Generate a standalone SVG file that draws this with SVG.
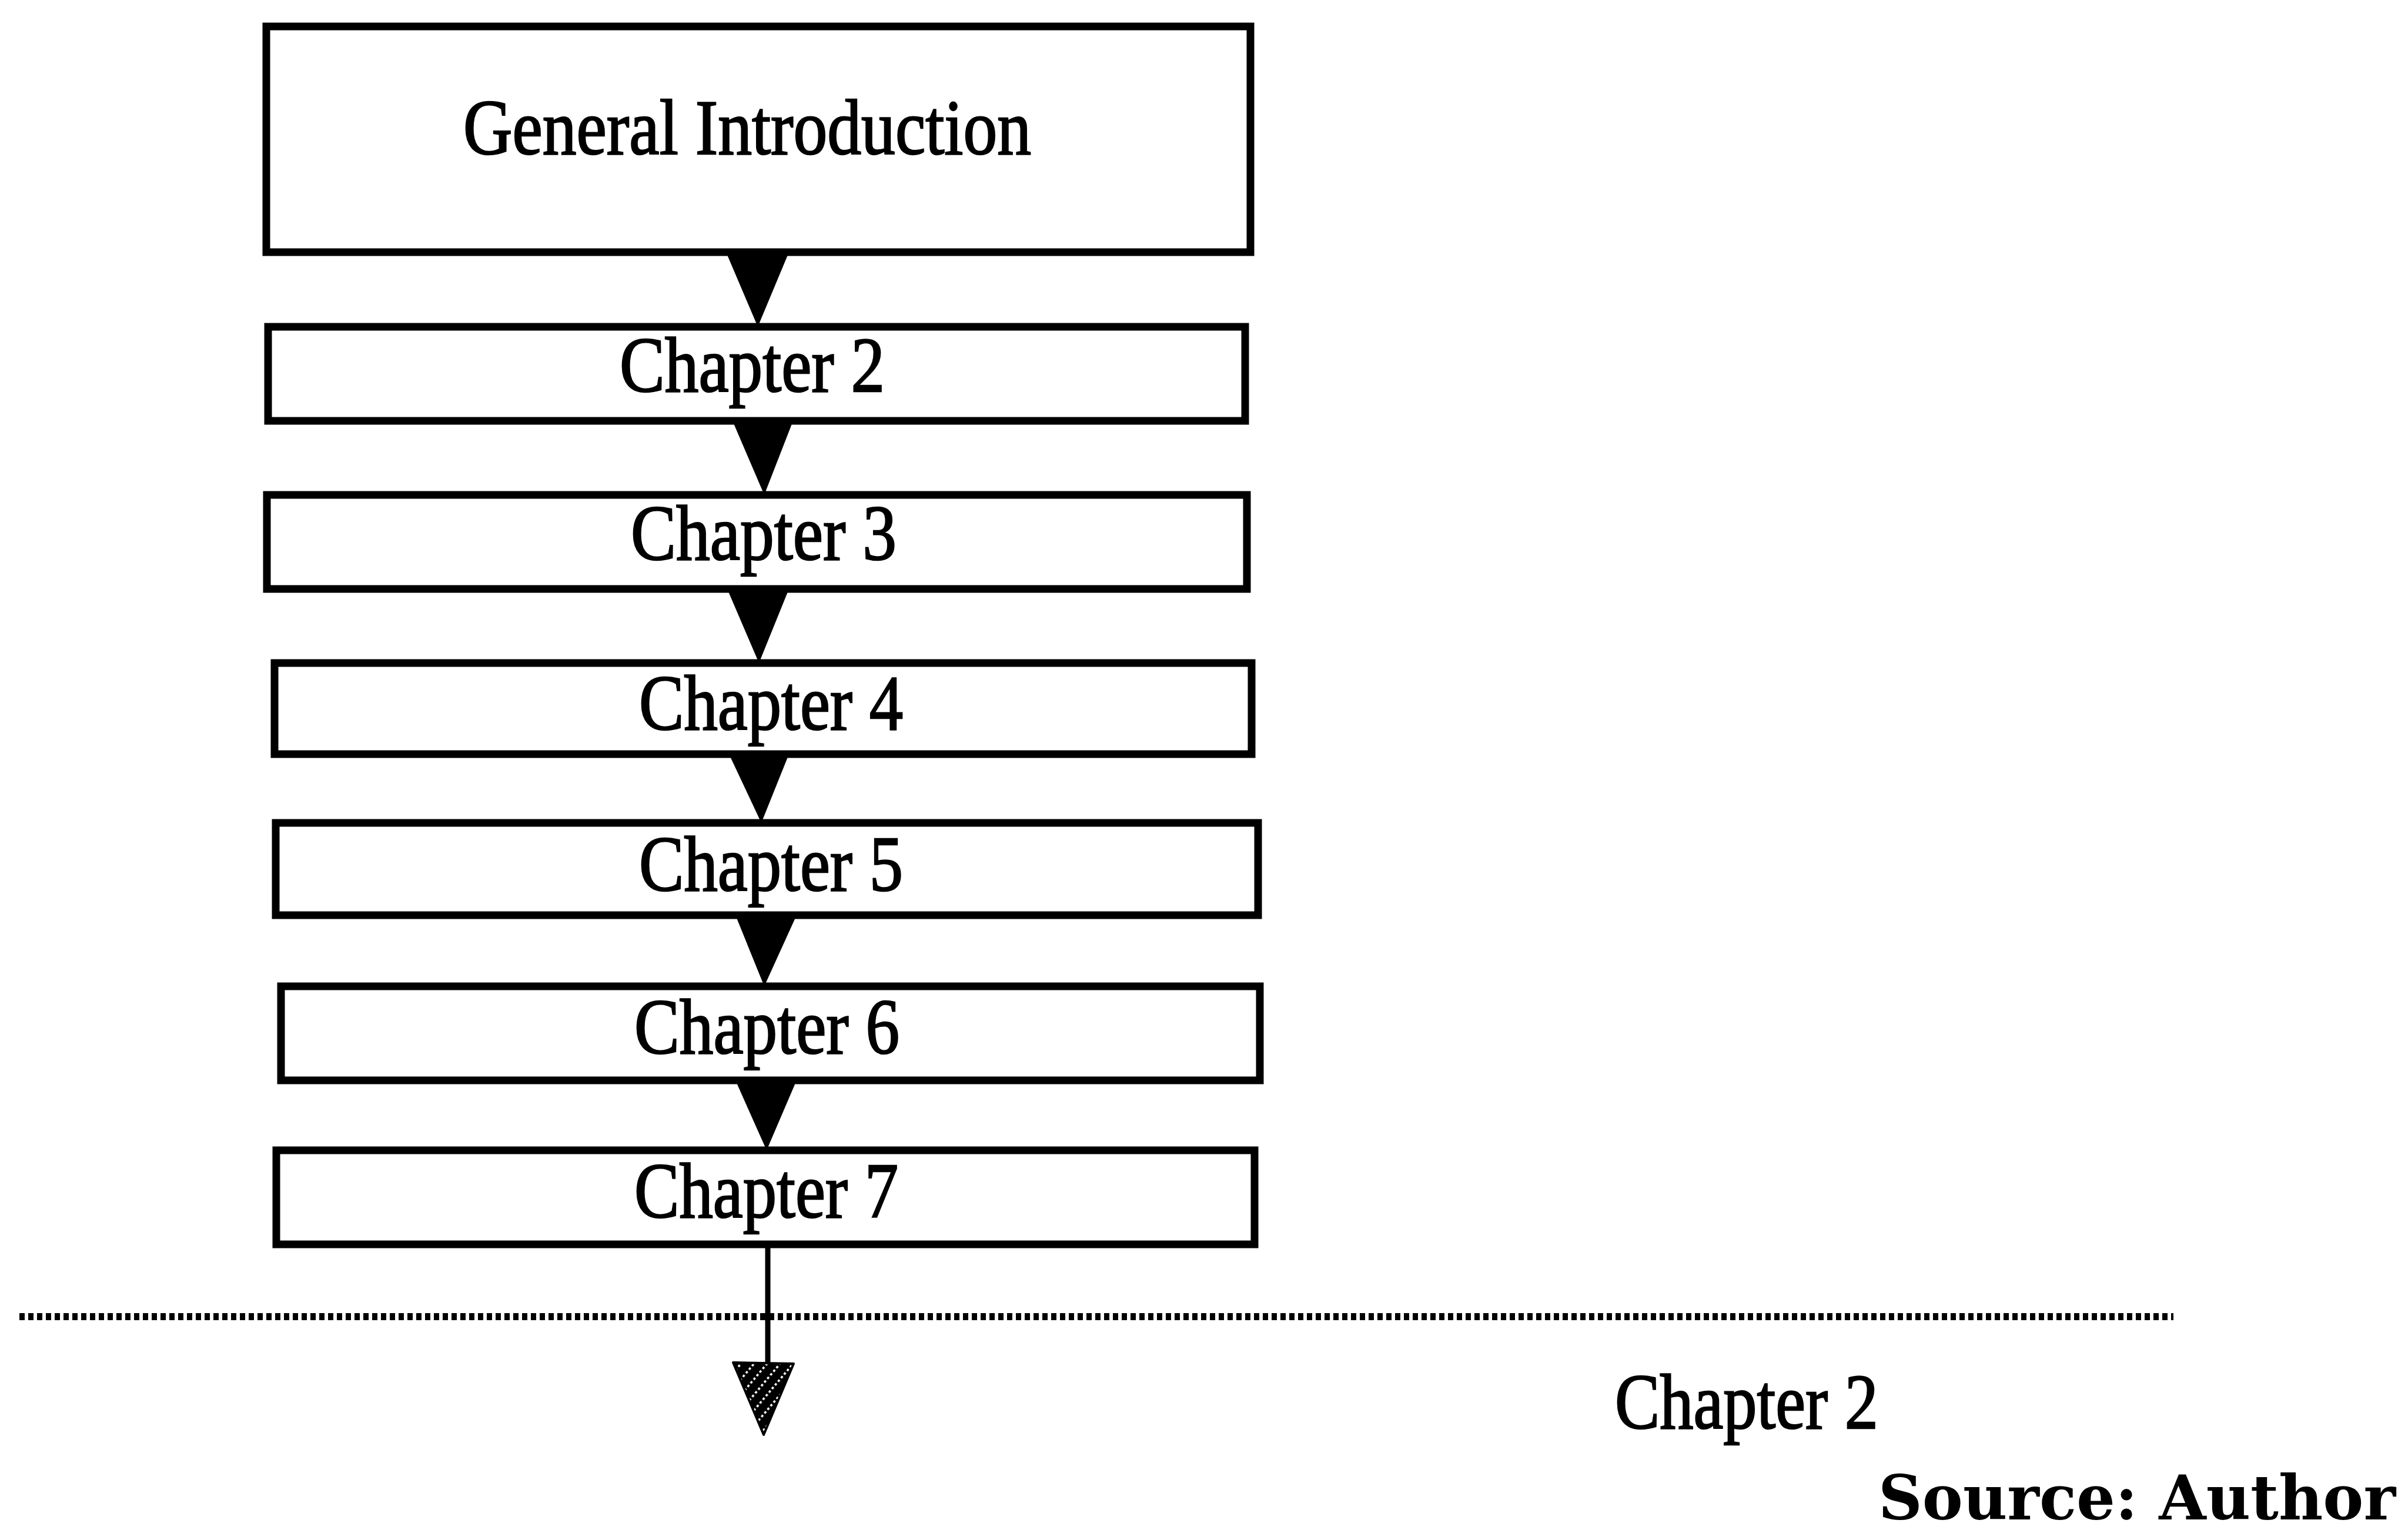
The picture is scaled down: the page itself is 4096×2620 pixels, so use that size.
<svg xmlns="http://www.w3.org/2000/svg" width="4096" height="2620" viewBox="0 0 4096 2620">
  <style>
    .box { fill: #fff; stroke: #000; stroke-width: 13; }
    .lbl { font-family: "Liberation Serif", "Times New Roman", serif; font-size: 133px; fill: #000; stroke: #000; stroke-width: 2.5; }
    .src { font-family: "DejaVu Serif", "Liberation Serif", serif; font-weight: bold; font-size: 104px; fill: #000; }
    .head { fill: #000; stroke: none; }
  </style>
  <defs>
    <!-- black fill crossed by rows of white dots running diagonally -->
    <pattern id="hatch" patternUnits="userSpaceOnUse" width="8" height="17" patternTransform="rotate(-50)">
      <rect width="8" height="17" fill="#000"/>
      <rect x="2" y="7" width="4" height="3.5" fill="#fff"/>
    </pattern>
  </defs>
  <rect width="4096" height="2620" fill="#fff"/>

  <g id="connectors">
    <polygon class="head" points="1235,429 1342,429 1289,556"/>
    <polygon class="head" points="1246,716 1349,716 1300,842"/>
    <polygon class="head" points="1237,1002 1342,1002 1291,1128"/>
    <polygon class="head" points="1240,1283 1342,1283 1295,1400"/>
    <polygon class="head" points="1251,1557 1355,1557 1300,1678"/>
    <polygon class="head" points="1251,1838 1355,1838 1304,1957"/>
    <!-- outgoing link from the last chapter -->
    <line x1="1306" y1="2120" x2="1306" y2="2322" stroke="#000" stroke-width="9"/>
    <polygon points="1247,2318 1350,2320 1299,2441" fill="url(#hatch)" stroke="#000" stroke-width="4" stroke-linejoin="round"/>
  </g>

  <!-- dotted separator -->
  <line id="separator" x1="33" y1="2240" x2="3697" y2="2240" stroke="#000" stroke-width="12" stroke-dasharray="9 6"/>

  <g id="general-introduction">
    <rect class="box" x="453" y="45" width="1674" height="384"/>
    <text class="lbl" x="788" y="262" textLength="966" lengthAdjust="spacingAndGlyphs">General Introduction</text>
  </g>
  <g id="chapter-2">
    <rect class="box" x="456" y="556" width="1662" height="160"/>
    <text class="lbl" x="1054" y="666" textLength="451" lengthAdjust="spacingAndGlyphs">Chapter 2</text>
  </g>
  <g id="chapter-3">
    <rect class="box" x="454" y="842" width="1667" height="160"/>
    <text class="lbl" x="1073" y="952" textLength="452" lengthAdjust="spacingAndGlyphs">Chapter 3</text>
  </g>
  <g id="chapter-4">
    <rect class="box" x="467" y="1128" width="1662" height="155"/>
    <text class="lbl" x="1087" y="1241" textLength="449" lengthAdjust="spacingAndGlyphs">Chapter 4</text>
  </g>
  <g id="chapter-5">
    <rect class="box" x="469" y="1400" width="1671" height="157"/>
    <text class="lbl" x="1087" y="1515" textLength="449" lengthAdjust="spacingAndGlyphs">Chapter 5</text>
  </g>
  <g id="chapter-6">
    <rect class="box" x="478" y="1678" width="1665" height="160"/>
    <text class="lbl" x="1079" y="1792" textLength="451" lengthAdjust="spacingAndGlyphs">Chapter 6</text>
  </g>
  <g id="chapter-7">
    <rect class="box" x="470" y="1957" width="1664" height="160"/>
    <text class="lbl" x="1079" y="2071" textLength="449" lengthAdjust="spacingAndGlyphs">Chapter 7</text>
  </g>

  <g id="caption">
    <text class="lbl" x="2747" y="2430" textLength="448" lengthAdjust="spacingAndGlyphs">Chapter 2</text>
    <text class="src" x="3195" y="2585" textLength="880" lengthAdjust="spacingAndGlyphs">Source: Author</text>
  </g>
</svg>
